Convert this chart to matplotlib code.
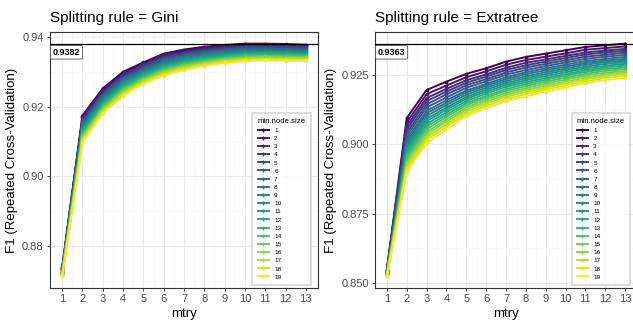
import numpy as np
import matplotlib.pyplot as plt
from matplotlib.lines import Line2D

plt.rcParams['font.family'] = ['Liberation Sans', 'DejaVu Sans']

mtry = list(range(1, 14))
node_sizes = list(range(1, 20))

# F1 per min.node.size (rows) and mtry (columns)
gini_f1 = [
    [0.8738, 0.9175, 0.9253, 0.9301, 0.9328, 0.9353, 0.9365, 0.9373, 0.9378, 0.9382, 0.9382, 0.9381, 0.9379],
    [0.8737, 0.9171, 0.9249, 0.9297, 0.9325, 0.9350, 0.9362, 0.9370, 0.9375, 0.9379, 0.9379, 0.9378, 0.9376],
    [0.8735, 0.9167, 0.9245, 0.9293, 0.9321, 0.9346, 0.9358, 0.9367, 0.9372, 0.9376, 0.9377, 0.9376, 0.9374],
    [0.8734, 0.9162, 0.9241, 0.9290, 0.9318, 0.9343, 0.9355, 0.9364, 0.9369, 0.9374, 0.9374, 0.9373, 0.9371],
    [0.8732, 0.9158, 0.9237, 0.9286, 0.9314, 0.9339, 0.9352, 0.9361, 0.9366, 0.9371, 0.9371, 0.9370, 0.9369],
    [0.8731, 0.9154, 0.9233, 0.9282, 0.9311, 0.9336, 0.9349, 0.9358, 0.9364, 0.9368, 0.9369, 0.9368, 0.9366],
    [0.8729, 0.9150, 0.9229, 0.9278, 0.9307, 0.9332, 0.9345, 0.9355, 0.9361, 0.9365, 0.9366, 0.9365, 0.9363],
    [0.8728, 0.9145, 0.9225, 0.9274, 0.9304, 0.9329, 0.9342, 0.9352, 0.9358, 0.9363, 0.9363, 0.9362, 0.9361],
    [0.8726, 0.9141, 0.9221, 0.9270, 0.9300, 0.9325, 0.9339, 0.9349, 0.9355, 0.9360, 0.9361, 0.9360, 0.9358],
    [0.8725, 0.9137, 0.9217, 0.9267, 0.9297, 0.9322, 0.9336, 0.9346, 0.9352, 0.9357, 0.9358, 0.9357, 0.9356],
    [0.8724, 0.9133, 0.9212, 0.9263, 0.9294, 0.9318, 0.9332, 0.9342, 0.9349, 0.9354, 0.9355, 0.9354, 0.9353],
    [0.8722, 0.9129, 0.9208, 0.9259, 0.9290, 0.9315, 0.9329, 0.9339, 0.9346, 0.9351, 0.9353, 0.9352, 0.9350],
    [0.8721, 0.9124, 0.9204, 0.9255, 0.9287, 0.9311, 0.9326, 0.9336, 0.9343, 0.9349, 0.9350, 0.9349, 0.9348],
    [0.8719, 0.9120, 0.9200, 0.9251, 0.9283, 0.9308, 0.9322, 0.9333, 0.9340, 0.9346, 0.9347, 0.9346, 0.9345],
    [0.8718, 0.9116, 0.9196, 0.9247, 0.9280, 0.9304, 0.9319, 0.9330, 0.9338, 0.9343, 0.9345, 0.9344, 0.9343],
    [0.8716, 0.9112, 0.9192, 0.9243, 0.9276, 0.9301, 0.9316, 0.9327, 0.9335, 0.9340, 0.9342, 0.9341, 0.9340],
    [0.8715, 0.9107, 0.9188, 0.9240, 0.9273, 0.9297, 0.9313, 0.9324, 0.9332, 0.9338, 0.9339, 0.9338, 0.9337],
    [0.8713, 0.9103, 0.9184, 0.9236, 0.9269, 0.9294, 0.9309, 0.9321, 0.9329, 0.9335, 0.9337, 0.9336, 0.9335],
    [0.8712, 0.9099, 0.9180, 0.9232, 0.9266, 0.9290, 0.9306, 0.9318, 0.9326, 0.9332, 0.9334, 0.9333, 0.9332],
]

extratree_f1 = [
    [0.8550, 0.9095, 0.9196, 0.9226, 0.9254, 0.9274, 0.9298, 0.9315, 0.9327, 0.9339, 0.9351, 0.9357, 0.9363],
    [0.8548, 0.9079, 0.9181, 0.9212, 0.9242, 0.9263, 0.9287, 0.9304, 0.9316, 0.9328, 0.9341, 0.9347, 0.9353],
    [0.8546, 0.9066, 0.9167, 0.9200, 0.9231, 0.9252, 0.9276, 0.9294, 0.9306, 0.9319, 0.9331, 0.9338, 0.9344],
    [0.8545, 0.9054, 0.9156, 0.9190, 0.9222, 0.9244, 0.9268, 0.9285, 0.9298, 0.9311, 0.9324, 0.9331, 0.9337],
    [0.8543, 0.9042, 0.9144, 0.9180, 0.9213, 0.9235, 0.9259, 0.9277, 0.9290, 0.9303, 0.9316, 0.9323, 0.9330],
    [0.8541, 0.9031, 0.9133, 0.9169, 0.9204, 0.9227, 0.9251, 0.9268, 0.9282, 0.9295, 0.9308, 0.9316, 0.9322],
    [0.8540, 0.9019, 0.9121, 0.9159, 0.9194, 0.9218, 0.9242, 0.9260, 0.9274, 0.9287, 0.9300, 0.9308, 0.9315],
    [0.8539, 0.9009, 0.9112, 0.9150, 0.9187, 0.9211, 0.9235, 0.9253, 0.9267, 0.9280, 0.9293, 0.9302, 0.9308],
    [0.8537, 0.8999, 0.9102, 0.9142, 0.9179, 0.9204, 0.9228, 0.9245, 0.9260, 0.9273, 0.9287, 0.9296, 0.9302],
    [0.8536, 0.8990, 0.9092, 0.9133, 0.9171, 0.9197, 0.9221, 0.9238, 0.9253, 0.9267, 0.9280, 0.9290, 0.9296],
    [0.8535, 0.8980, 0.9083, 0.9125, 0.9164, 0.9190, 0.9214, 0.9231, 0.9246, 0.9260, 0.9274, 0.9283, 0.9290],
    [0.8533, 0.8970, 0.9073, 0.9116, 0.9156, 0.9183, 0.9207, 0.9224, 0.9239, 0.9253, 0.9267, 0.9277, 0.9284],
    [0.8532, 0.8960, 0.9064, 0.9107, 0.9148, 0.9175, 0.9199, 0.9217, 0.9233, 0.9247, 0.9261, 0.9271, 0.9277],
    [0.8531, 0.8951, 0.9054, 0.9099, 0.9141, 0.9168, 0.9192, 0.9210, 0.9226, 0.9240, 0.9254, 0.9265, 0.9271],
    [0.8529, 0.8941, 0.9044, 0.9090, 0.9133, 0.9161, 0.9185, 0.9203, 0.9219, 0.9233, 0.9248, 0.9258, 0.9265],
    [0.8528, 0.8931, 0.9035, 0.9082, 0.9126, 0.9154, 0.9178, 0.9196, 0.9212, 0.9226, 0.9241, 0.9252, 0.9259],
    [0.8527, 0.8921, 0.9025, 0.9073, 0.9118, 0.9147, 0.9171, 0.9189, 0.9205, 0.9220, 0.9234, 0.9246, 0.9253],
    [0.8525, 0.8911, 0.9015, 0.9064, 0.9109, 0.9139, 0.9163, 0.9181, 0.9198, 0.9212, 0.9227, 0.9239, 0.9246],
    [0.8524, 0.8900, 0.9004, 0.9054, 0.9101, 0.9131, 0.9155, 0.9173, 0.9190, 0.9205, 0.9220, 0.9232, 0.9239],
]

gini_best = 0.9382
extratree_best = 0.9363

gini_yticks = [0.88, 0.90, 0.92, 0.94]
extratree_yticks = [0.850, 0.875, 0.900, 0.925]

colors = plt.cm.viridis(np.linspace(0, 1, len(node_sizes)))


def draw_panel(ax, data, best, yticks, yfmt, title):
    ax.set_facecolor('white')
    for i, row in enumerate(data):
        ax.plot(mtry, row, color=colors[i], lw=1.4, marker='o', ms=1.6,
                zorder=3 + i * 0.01)
    ax.axhline(best, color='black', lw=0.9, zorder=5)

    flat = np.array(data)
    lo, hi = flat.min(), max(flat.max(), best)
    pad = (hi - lo) * 0.05

    ax.set_xticks(mtry)
    ax.set_xticks(np.arange(1.5, 13.5, 1.0), minor=True)
    ax.set_yticks(yticks)
    ax.set_yticklabels([yfmt.format(v) for v in yticks])
    steps = np.diff(yticks)[0]
    ax.set_yticks(np.arange(yticks[0] - steps / 2, hi + pad, steps), minor=True)
    ax.set_xlim(0.4, 13.6)
    ax.set_ylim(lo - pad, hi + pad)

    ax.grid(which='major', color='#ebebeb', lw=0.8, zorder=0)
    ax.grid(which='minor', color='#f5f5f5', lw=0.5, zorder=0)
    ax.set_axisbelow(True)
    for s in ax.spines.values():
        s.set_color('#333333')
        s.set_linewidth(0.8)
    ax.tick_params(which='major', length=2.5, width=0.6, color='#333333',
                   labelsize=8, labelcolor='#4d4d4d', pad=2)
    ax.tick_params(which='minor', length=0)

    ax.set_xlabel('mtry', fontsize=9.5, labelpad=3)
    ax.set_ylabel('F1 (Repeated Cross-Validation)', fontsize=9.5, labelpad=3)
    ax.set_title(title, fontsize=11, loc='left', pad=7)

    ax.annotate(f'{best:.4f}', xy=(0.4, best), xytext=(2, -3),
                textcoords='offset points', ha='left', va='top',
                fontsize=6.5, fontweight='bold', zorder=6,
                bbox=dict(boxstyle='round,pad=0.25,rounding_size=0.15',
                          fc='white', ec='#555555', lw=0.6))

    handles = [Line2D([0], [0], color=colors[i], lw=1.4, marker='+', ms=3)
               for i in range(len(node_sizes))]
    leg = ax.legend(handles, [str(n) for n in node_sizes], title='min.node.size',
                    loc='lower right', fontsize=4.6, title_fontsize=5.6,
                    frameon=True, fancybox=False, handlelength=1.8,
                    labelspacing=0.42, borderpad=0.8, handletextpad=0.8,
                    bbox_to_anchor=(0.985, 0.0))
    leg.get_frame().set_edgecolor('#cccccc')
    leg.get_frame().set_linewidth(1.2)
    leg._legend_box.align = 'left'
    leg.set_zorder(7)


fig = plt.figure(figsize=(6.33, 3.21), dpi=100)
ax1 = fig.add_axes([50 / 633, 33 / 321, 268 / 633, 256 / 321])
ax2 = fig.add_axes([375 / 633, 33 / 321, 262 / 633, 256 / 321])

draw_panel(ax1, gini_f1, gini_best, gini_yticks, '{:.2f}', 'Splitting rule = Gini')
draw_panel(ax2, extratree_f1, extratree_best, extratree_yticks, '{:.3f}',
           'Splitting rule = Extratree')

fig.savefig('out.png', dpi=100)
